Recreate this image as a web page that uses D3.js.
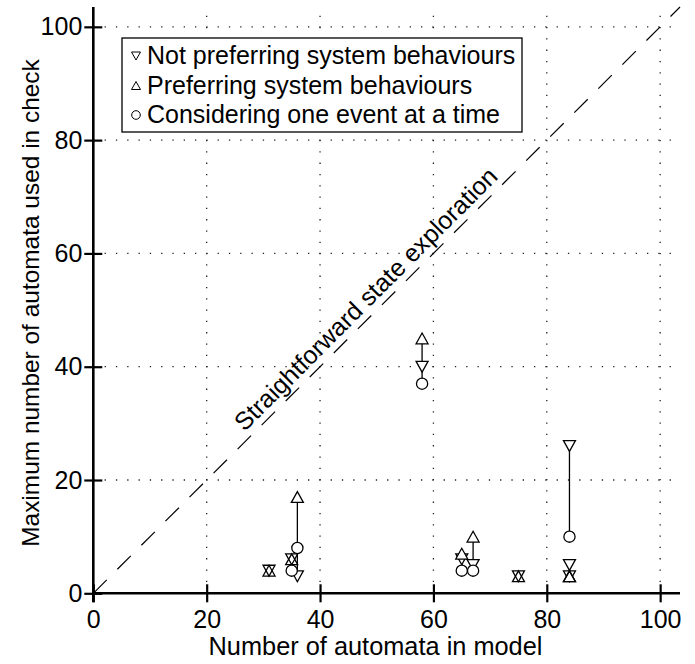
<!DOCTYPE html>
<html>
<head>
<meta charset="utf-8">
<script src="https://cdn.jsdelivr.net/npm/d3@7"></script>
<style>
  body { margin: 0; background: #fff; }
</style>
</head>
<body>
<div id="chart"></div>
<script>
// one entry per model (x), three variants measured on it
const MODELS = [31, 35, 36, 58, 65, 67, 75, 84, 84, 84]
const NOT_PREFERRING = [4, 6, 3, 40, 6, 5, 3, 26, 5, 3]
const PREFERRING = [4, 6, 17, 45, 7, 10, 3, null, 3, 3]
const ONE_EVENT = [null, 4, 8, 37, 4, 4, null, 10, null, null]

const TICKS = [0, 20, 40, 60, 80, 100]
const LEGEND = ['Not preferring system behaviours', 'Preferring system behaviours', 'Considering one event at a time']
const DIAG_LABEL = 'Straightforward state exploration'

const WIDTH = 695
const HEIGHT = 664
const LEFT = 93.3
const BOTTOM = 593.3
const RIGHT = 680
const TOP = 7
const MAX = 103.5
const FONT = 'Liberation Sans, Arial, sans-serif'

const svg = d3.select('#chart').append('svg')
    .attr('width', WIDTH).attr('height', HEIGHT)
    .style('font-family', FONT)

const x = d3.scaleLinear().domain([0, MAX]).range([LEFT, RIGHT])
const y = d3.scaleLinear().domain([0, MAX]).range([BOTTOM, TOP])

// ajuste la taille de police pour obtenir une longueur donnee
const fitText = (sel, target) => {
    const len = sel.node().getComputedTextLength()
    sel.attr('font-size', 25 * target / len)
}

// grille en pointilles
const grid = svg.append('g')
    .attr('stroke', '#222').attr('stroke-width', 1.3)
    .attr('stroke-dasharray', '1.3,10')
grid.selectAll('.gv').data(TICKS.slice(1)).enter().append('line')
    .attr('x1', d => x(d)).attr('x2', d => x(d))
    .attr('y1', y(0)).attr('y2', y(MAX))
grid.selectAll('.gh').data(TICKS.slice(1)).enter().append('line')
    .attr('y1', d => y(d)).attr('y2', d => y(d))
    .attr('x1', x(0)).attr('x2', x(MAX))

// diagonale x = y
svg.append('line')
    .attr('x1', x(0)).attr('y1', y(0))
    .attr('x2', x(MAX)).attr('y2', y(MAX))
    .attr('stroke', '#000').attr('stroke-width', 1.2)
    .attr('stroke-dasharray', '19,15')

const LABEL_AT = 50
svg.append('text')
    .attr('transform', `translate(${x(LABEL_AT) - 5}, ${y(LABEL_AT) - 5}) rotate(-45)`)
    .attr('text-anchor', 'middle')
    .attr('font-size', 25)
    .text(DIAG_LABEL)

// axes qui se croisent a l'origine
const axisX = svg.append('g')
    .attr('transform', `translate(0, ${y(0)})`)
    .call(d3.axisBottom(x).tickValues(TICKS).tickSize(9).tickPadding(8))
axisX.select('.domain').attr('d', `M${x(0)},0H${x(MAX)}`)
const axisY = svg.append('g')
    .attr('transform', `translate(${x(0)}, 0)`)
    .call(d3.axisLeft(y).tickValues(TICKS).tickSize(9).tickPadding(2))
axisY.select('.domain').attr('d', `M0,${y(0) + 9}V${y(MAX)}`)

axisX.selectAll('.tick line').attr('y1', -9)
axisY.selectAll('.tick line').attr('x1', 9).attr('x2', -9)
svg.selectAll('.domain').attr('stroke-width', 2.6)
svg.selectAll('.tick line').attr('stroke-width', 2.2)
svg.selectAll('.tick text')
    .attr('font-family', FONT).attr('font-size', 25).attr('fill', '#000')

const xTitle = svg.append('text')
    .attr('x', 375.5).attr('y', 655)
    .attr('text-anchor', 'middle').attr('font-size', 25)
    .text('Number of automata in model')
fitText(xTitle, 334)
const yTitle = svg.append('text')
    .attr('transform', `translate(39, 303) rotate(-90)`)
    .attr('text-anchor', 'middle').attr('font-size', 25)
    .text('Maximum number of automata used in check')
fitText(yTitle, 488)

// marqueurs : triangles centres sur leur boite
const TRI_W = 12
const TRI_H = 10.8
const triDown = (w, h) => `M${-w / 2},${-h / 2}L${w / 2},${-h / 2}L0,${h / 2}Z`
const triUp = (w, h) => `M${-w / 2},${h / 2}L${w / 2},${h / 2}L0,${-h / 2}Z`

const rows = MODELS.map((m, i) => ({
    m, nots: NOT_PREFERRING[i], pref: PREFERRING[i], one: ONE_EVENT[i]
}))

const plot = svg.append('g')

// segment entre min et max pour chaque modele
plot.selectAll('.range').data(rows).enter().append('line')
    .attr('x1', d => x(d.m)).attr('x2', d => x(d.m))
    .attr('y1', d => y(d3.min([d.nots, d.pref, d.one].filter(v => v != null))))
    .attr('y2', d => y(d3.max([d.nots, d.pref, d.one].filter(v => v != null))))
    .attr('stroke', '#000').attr('stroke-width', 1.3)

const R_CIRC = 5.6

plot.selectAll('.down').data(rows.filter(d => d.nots != null)).enter().append('path')
    .attr('d', triDown(TRI_W, TRI_H))
    .attr('transform', d => `translate(${x(d.m)}, ${y(d.nots)})`)
    .attr('fill', '#fff').attr('stroke', '#000').attr('stroke-width', 1.3)

plot.selectAll('.up').data(rows.filter(d => d.pref != null)).enter().append('path')
    .attr('d', triUp(TRI_W, TRI_H))
    .attr('transform', d => `translate(${x(d.m)}, ${y(d.pref)})`)
    .attr('fill', d => d.pref === d.nots ? 'none' : '#fff')
    .attr('stroke', '#000').attr('stroke-width', 1.3)

plot.selectAll('circle').data(rows.filter(d => d.one != null)).enter().append('circle')
    .attr('cx', d => x(d.m)).attr('cy', d => y(d.one)).attr('r', R_CIRC)
    .attr('fill', '#fff').attr('stroke', '#000').attr('stroke-width', 1.3)

// legende
const legend = svg.append('g').attr('transform', 'translate(122, 38)')
legend.append('rect')
    .attr('width', 400).attr('height', 94)
    .attr('fill', '#fff').attr('stroke', '#000').attr('stroke-width', 1.3)

const ROW_H = 29.5
const items = legend.selectAll('.item').data(LEGEND).enter().append('g')
    .attr('transform', (d, i) => `translate(0, ${17 + i * ROW_H})`)
items.filter((d, i) => i < 2).append('path')
    .attr('d', (d, i) => i === 0 ? triDown(9, 8) : triUp(9, 8))
    .attr('transform', 'translate(14, 1)')
    .attr('fill', 'none').attr('stroke', '#000').attr('stroke-width', 1)
items.filter((d, i) => i === 2).append('circle')
    .attr('cx', 14).attr('cy', 1).attr('r', 4.3)
    .attr('fill', 'none').attr('stroke', '#000').attr('stroke-width', 1)
items.append('text')
    .attr('x', 25).attr('y', 9)
    .attr('font-size', 25)
    .text(d => d)
</script>
</body>
</html>
